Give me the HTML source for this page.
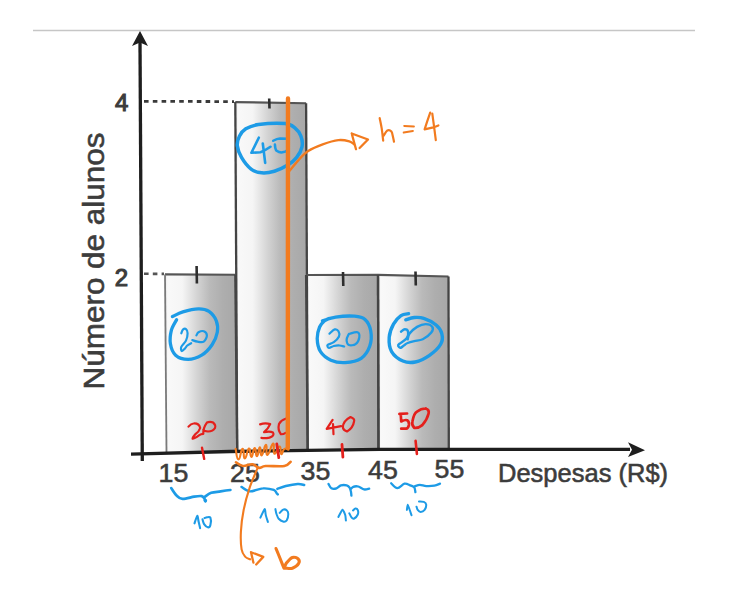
<!DOCTYPE html>
<html><head><meta charset="utf-8">
<style>
html,body{margin:0;padding:0;background:#fff;width:744px;height:613px;overflow:hidden}
svg{display:block}
text{font-family:"Liberation Sans",sans-serif}
</style></head>
<body>
<svg width="744" height="613" viewBox="0 0 744 613">
<defs>
<linearGradient id="bar" x1="0" x2="1" y1="0" y2="0">
<stop offset="0" stop-color="#e8e8e8"/>
<stop offset="0.04" stop-color="#f9f9f9"/>
<stop offset="0.24" stop-color="#f5f5f5"/>
<stop offset="0.45" stop-color="#d3d3d3"/>
<stop offset="0.62" stop-color="#bababa"/>
<stop offset="0.8" stop-color="#aeaeae"/>
<stop offset="1" stop-color="#a7a7a7"/>
</linearGradient>
</defs>
<rect width="744" height="613" fill="#fff"/><line x1="33" y1="30.5" x2="695" y2="30.5" stroke="#c6c6c6" stroke-width="1.4"/>
<g>
<polygon points="165.0,274.4 235.3,274.7 237.2,451.2 166.5,453.0" fill="url(#bar)"/>
<polygon points="235.3,102.1 306.1,103.2 307.7,450.1 237.2,451.2" fill="url(#bar)"/>
<polygon points="306.1,275.0 378.0,274.9 378.5,449.2 307.7,450.1" fill="url(#bar)"/>
<polygon points="378.0,274.9 448.5,276.5 448.8,449.1 378.5,449.2" fill="url(#bar)"/>
<line x1="165.0" y1="274.4" x2="235.3" y2="274.7" stroke="#555" stroke-width="2.1"/>
<line x1="165.0" y1="274.4" x2="166.5" y2="453.0" stroke="#7a7a7a" stroke-width="1.8"/>
<line x1="235.3" y1="274.7" x2="237.2" y2="451.2" stroke="#444" stroke-width="2.3"/>
<line x1="235.3" y1="102.1" x2="306.1" y2="103.2" stroke="#555" stroke-width="2.1"/>
<line x1="235.3" y1="102.1" x2="237.2" y2="451.2" stroke="#444" stroke-width="2.3"/>
<line x1="306.1" y1="103.2" x2="307.7" y2="450.1" stroke="#444" stroke-width="2.3"/>
<line x1="306.1" y1="275.0" x2="378.0" y2="274.9" stroke="#555" stroke-width="2.1"/>
<line x1="306.1" y1="275.0" x2="307.7" y2="450.1" stroke="#444" stroke-width="2.3"/>
<line x1="378.0" y1="274.9" x2="378.5" y2="449.2" stroke="#444" stroke-width="2.3"/>
<line x1="378.0" y1="274.9" x2="448.5" y2="276.5" stroke="#555" stroke-width="2.1"/>
<line x1="378.0" y1="274.9" x2="378.5" y2="449.2" stroke="#444" stroke-width="2.3"/>
<line x1="448.5" y1="276.5" x2="448.8" y2="449.1" stroke="#444" stroke-width="2.3"/>
<line x1="196.6" y1="266" x2="196.9" y2="283.5" stroke="#2e2e2e" stroke-width="2.6"/>
<line x1="269.2" y1="98.5" x2="269.5" y2="108.5" stroke="#2e2e2e" stroke-width="2.6"/>
<line x1="343" y1="272" x2="343.3" y2="286" stroke="#2e2e2e" stroke-width="2.6"/>
<line x1="415.5" y1="271.5" x2="415.8" y2="285.5" stroke="#2e2e2e" stroke-width="2.6"/>
<line x1="144" y1="101.3" x2="234" y2="101.6" stroke="#3a3a3a" stroke-width="2.8" stroke-dasharray="4.6 4.2"/>
<line x1="144" y1="273.8" x2="164" y2="273.9" stroke="#555" stroke-width="2.6" stroke-dasharray="4.6 4.2"/>
<polyline points="140,42 142.3,461" fill="none" stroke="#1e1e1e" stroke-width="3.3"/>
<polyline points="131,454.1 230,451.5 380,449.4 630,449.4" fill="none" stroke="#1e1e1e" stroke-width="3.3"/>
<path d="M140 31 L132 46 L140 42.5 L148 46 Z" fill="#1e1e1e"/>
<path d="M645 450.2 L628 442.3 L632 449.7 L628 457 Z" fill="#1e1e1e"/>
<g fill="#3c3c3c" stroke="#3c3c3c" stroke-width="0.55">
<text x="115" y="111" font-size="24" stroke-width="1.1">4</text>
<text x="114.8" y="285.5" font-size="24" stroke-width="1.1">2</text>
<text transform="translate(103.8,389.5) rotate(-90) scale(1.085,1)" font-size="29">Número de alunos</text>
<text transform="translate(158.5,482.2) scale(1.05,1)" font-size="25.5">15</text>
<text transform="translate(230,481.8) scale(1.05,1)" font-size="25.5">25</text>
<text transform="translate(300.5,480) scale(1.05,1)" font-size="25.5">35</text>
<text transform="translate(368,478.8) scale(1.05,1)" font-size="25.5">45</text>
<text transform="translate(434.5,478.4) scale(1.05,1)" font-size="25.5">55</text>
<text transform="translate(498,481.5) scale(1.02,1)" font-size="25">Despesas (R$)</text>
</g>
</g>
<g>
<g stroke="#1d9be6" fill="none" stroke-linecap="round" stroke-linejoin="round"><path d="M258.5 124.5 C265.0 123.6 279.0 123.0 285.0 123.5 C291.0 124.0 292.0 125.6 294.6 127.7 C297.2 129.8 299.7 133.0 300.9 136.2 C302.1 139.4 302.7 143.3 302.0 146.8 C301.3 150.3 299.0 154.4 296.7 157.4 C294.4 160.4 291.9 162.5 288.2 164.8 C284.5 167.1 278.8 169.9 274.4 171.2 C270.0 172.5 265.6 173.2 261.7 172.8 C257.8 172.5 254.5 171.7 251.1 169.1 C247.7 166.5 243.8 161.3 241.5 157.4 C239.2 153.5 237.7 149.3 237.3 145.8 C237.0 142.3 238.0 139.0 239.4 136.2 C240.8 133.4 242.6 130.8 245.8 128.8 C249.0 126.9 252.0 125.4 258.5 124.5" stroke-width="3.5"/>
<path d="M258.8 137.7 L251.4 152.8 L260.5 152.2 Q266 150 270.5 146.8 M262.8 143.5 L265.2 162.9" stroke-width="2.6"/>
<path d="M273.2 140.8 Q277 138.5 280 138.4 L288 138.7 M274.9 144.4 Q275 149 276.6 150.8 Q279 152.5 281.3 152.5 Q286 152 288 150" stroke-width="2.5"/>
<path d="M172.4 316.6 C174.2 315.8 178.6 313.2 182.9 311.9 C187.2 310.6 194.2 308.9 198.5 308.8 C202.8 308.7 206.0 309.4 209.0 311.4 C212.0 313.4 214.9 317.3 216.3 320.8 C217.7 324.3 218.0 328.3 217.3 332.3 C216.6 336.3 214.7 341.0 212.1 344.8 C209.5 348.6 205.7 352.8 201.7 355.2 C197.7 357.6 192.4 359.4 188.1 359.4 C183.8 359.4 178.5 357.8 175.6 355.2 C172.7 352.6 171.1 348.0 170.4 343.8 C169.7 339.6 170.4 334.2 171.4 330.2 C172.4 326.2 175.7 321.4 176.6 319.7" stroke-width="3.3"/>
<path d="M181.3 333.3 C181.6 332.7 182.1 330.4 182.9 329.7 C183.7 329.0 185.2 328.5 186.0 329.1 C186.8 329.7 187.6 331.4 187.6 333.3 C187.6 335.2 187.1 338.3 186.0 340.6 C184.9 342.9 182.0 345.1 181.3 346.9 C180.6 348.6 181.2 350.8 181.8 351.1 C182.4 351.4 184.1 349.4 185.0 348.5 C185.9 347.6 186.0 346.7 187.0 345.8 C188.0 344.9 190.5 343.6 191.2 343.2" stroke-width="2.2"/>
<path d="M192.3 340.1 C193.2 340.4 195.6 341.4 197.5 341.7 C199.4 342.0 202.2 342.8 203.8 341.7 C205.4 340.6 206.9 337.1 206.9 335.4 C206.9 333.6 205.2 331.7 203.8 331.2 C202.4 330.7 199.7 331.6 198.5 332.3 C197.3 333.0 196.8 334.9 196.4 335.4" stroke-width="2.2"/>
<path d="M322.4 320.9 C324.6 320.3 330.3 317.9 335.7 317.1 C341.1 316.3 349.7 315.8 354.6 316.2 C359.5 316.6 362.3 317.1 365.0 319.5 C367.7 321.9 369.9 326.4 370.7 330.8 C371.5 335.2 371.4 341.4 369.8 346.0 C368.2 350.6 365.3 355.5 361.2 358.3 C357.1 361.1 350.2 362.3 345.1 362.6 C340.1 362.9 335.0 362.0 330.9 360.2 C326.8 358.4 322.8 355.3 320.5 351.7 C318.2 348.1 317.3 342.5 317.2 338.4 C317.1 334.3 318.4 329.9 319.6 327.0 C320.8 324.1 322.7 322.3 324.3 320.9 C325.9 319.5 328.2 318.9 329.0 318.5" stroke-width="3.3"/>
<path d="M329.5 333.7 C330.4 333.0 333.2 329.8 334.7 329.4 C336.2 329.0 337.8 330.1 338.5 331.3 C339.2 332.5 339.8 334.7 339.0 336.5 C338.2 338.3 335.7 340.8 333.8 342.2 C331.9 343.6 328.4 344.1 327.6 345.0 C326.8 345.9 328.0 347.7 329.0 347.9 C330.0 348.1 332.1 346.4 333.8 346.0 C335.6 345.6 337.8 345.4 339.5 345.5 C341.2 345.6 343.4 346.3 344.2 346.5" stroke-width="2.2"/>
<path d="M349.9 333.7 C351.4 333.3 355.9 331.7 357.5 332.3 C359.1 332.9 359.6 335.5 359.3 337.5 C359.0 339.5 357.3 342.9 355.6 344.1 C353.9 345.4 350.4 345.6 348.9 345.0 C347.4 344.4 346.7 342.0 346.6 340.3 C346.5 338.6 347.9 335.7 348.5 334.6 C349.1 333.5 348.4 334.1 349.9 333.7" stroke-width="2.2"/>
<path d="M408.6 313.7 C407.3 314.0 403.5 313.9 401.0 315.6 C398.5 317.3 395.5 320.5 393.5 324.1 C391.5 327.7 389.5 332.8 389.2 337.4 C388.9 342.0 389.3 347.7 391.6 351.6 C393.9 355.5 398.9 359.3 402.9 361.0 C406.8 362.7 410.9 362.9 415.3 362.0 C419.7 361.1 425.2 358.3 429.5 355.3 C433.8 352.3 438.8 347.6 440.8 344.0 C442.9 340.4 442.6 336.8 441.8 333.6 C441.0 330.4 439.1 327.5 436.1 325.0 C433.1 322.5 427.4 319.6 423.8 318.4 C420.2 317.1 417.3 317.3 414.3 317.5 C411.3 317.7 407.2 319.4 405.8 319.8" stroke-width="3.4"/>
<path d="M401.0 331.7 C401.6 331.3 403.6 329.3 404.8 329.3 C406.0 329.3 407.8 330.2 408.1 331.7 C408.4 333.2 408.2 336.2 406.7 338.3 C405.2 340.4 400.6 342.7 399.2 344.0 C397.8 345.3 398.0 345.3 398.2 345.9 C398.4 346.5 399.7 347.9 400.6 347.8 C401.6 347.7 402.7 346.2 403.9 345.4 C405.1 344.6 406.0 343.7 407.7 343.0 C409.4 342.3 411.8 341.7 414.3 341.1 C416.8 340.5 420.0 340.7 422.8 339.3 C425.6 337.9 429.7 334.7 431.3 332.6 C432.9 330.5 433.2 328.3 432.3 326.9 C431.4 325.5 428.2 324.1 425.7 324.1 C423.2 324.1 419.8 325.3 417.1 326.9 C414.4 328.5 411.2 331.5 409.6 333.6 C408.0 335.7 408.0 338.4 407.7 339.3" stroke-width="2.4"/>
<path d="M171.2 488.1 C172.0 489.3 174.4 493.4 176.3 495.2 C178.2 497.0 179.5 498.7 182.5 498.9 C185.5 499.1 191.0 497.1 194.2 496.6 C197.4 496.1 200.0 495.7 201.7 496.1 C203.4 496.5 204.0 498.0 204.6 498.9 C205.2 499.8 205.3 500.9 205.5 501.3 M204.6 497.0 C205.7 496.3 208.5 493.7 211.2 492.8 C213.9 491.9 217.4 491.9 220.6 491.4 C223.8 490.9 228.8 490.2 230.4 490.0" stroke-width="2.7"/>
<circle cx="205.3" cy="500.5" r="1.8" fill="#1d9be6" stroke="none"/>
<path d="M194.5 523.3 C194.8 522.5 196.9 515.8 197.3 515.7 C197.7 515.6 198.4 520.9 198.7 522.1 C199.0 523.4 200.0 527.6 200.1 528.2 M202.5 519.3 C202.8 520.1 203.2 522.8 204.1 524.1 C205.0 525.5 207.1 527.3 208.2 527.4 C209.2 527.5 210.0 526.5 210.4 524.9 C210.8 523.3 211.0 519.0 210.4 517.7 C209.8 516.4 208.0 517.2 207.0 517.3 C206.0 517.4 204.9 518.0 204.5 518.1" stroke-width="2.1"/>
<path d="M241.5 486.9 C242.9 487.6 246.3 491.1 249.9 491.4 C253.5 491.6 258.9 488.6 262.9 488.4 C266.9 488.1 271.5 489.1 273.8 489.9 C276.1 490.7 276.1 492.6 276.8 493.4 C277.5 494.1 277.6 494.2 277.8 494.4 M277.3 488.9 C278.7 488.4 282.4 486.8 285.8 486.0 C289.2 485.2 294.6 484.2 297.7 484.0 C300.8 483.8 303.1 484.8 304.2 485.0" stroke-width="2.4"/>
<path d="M260.4 517.7 C260.8 516.8 264.2 509.4 264.7 509.1 C265.2 508.8 265.5 513.8 265.8 515.1 C266.1 516.4 267.7 521.3 267.9 522.0 M275.4 509.1 C275.6 509.9 275.9 512.4 276.5 514.0 C277.1 515.6 277.6 517.5 278.7 518.8 C279.8 520.0 281.7 521.2 283.0 521.5 C284.3 521.8 285.8 521.6 286.7 520.4 C287.6 519.1 288.3 515.7 288.3 514.0 C288.3 512.3 287.6 510.9 286.7 510.2 C285.8 509.5 284.2 509.2 283.0 509.7 C281.8 510.1 280.2 512.4 279.7 512.9" stroke-width="2.0"/>
<path d="M328.5 484.0 C329.0 484.7 330.1 487.6 331.4 488.3 C332.7 489.0 334.9 488.8 336.5 488.3 C338.1 487.8 339.2 485.9 340.9 485.4 C342.6 484.9 345.2 485.0 346.7 485.4 C348.1 485.8 348.9 486.5 349.6 487.6 C350.3 488.7 350.7 490.7 351.0 492.0 C351.3 493.3 351.3 495.0 351.4 495.6 M350.3 489.8 C350.8 489.3 351.9 487.4 353.2 486.9 C354.5 486.3 356.5 486.1 358.3 486.5 C360.1 486.9 362.3 489.0 364.1 489.4 C365.9 489.8 368.4 488.8 369.2 488.7" stroke-width="2.3"/>
<path d="M338.4 516.9 C338.8 516.2 341.8 509.9 342.5 509.7 C343.2 509.5 345.0 514.2 345.3 515.3 C345.6 516.4 345.8 520.1 345.9 520.6 M349.3 513.3 C349.7 514.0 350.9 516.8 351.7 517.7 C352.5 518.6 353.2 519.0 354.2 518.5 C355.2 518.0 357.2 515.9 357.8 514.5 C358.4 513.1 358.2 511.1 357.8 510.1 C357.4 509.1 356.2 508.4 355.4 508.5 C354.6 508.6 353.4 510.2 353.0 510.5" stroke-width="2.0"/>
<path d="M391.2 483.3 C392.2 484.1 395.1 488.0 397.3 488.1 C399.5 488.2 402.4 484.2 404.5 483.7 C406.6 483.2 408.6 484.7 410.2 485.3 C411.8 485.9 413.3 486.2 414.2 487.3 C415.1 488.4 415.2 491.3 415.4 492.1 M415.0 486.1 C415.8 485.9 418.0 484.9 419.9 484.9 C421.8 484.9 423.9 486.0 426.3 486.1 C428.7 486.2 432.1 486.1 434.4 485.7 C436.7 485.3 439.1 484.0 440.0 483.7" stroke-width="2.3"/>
<path d="M406.9 509.9 C407.0 509.4 407.4 504.7 407.7 504.7 C408.0 504.7 409.3 508.8 409.7 509.9 C410.1 510.9 411.3 514.7 411.5 515.2 M416.5 506.7 C416.7 507.2 417.0 509.0 417.7 509.9 C418.4 510.8 419.5 511.9 420.6 511.9 C421.8 511.9 423.7 511.1 424.6 509.9 C425.5 508.7 426.3 506.0 426.2 504.7 C426.1 503.4 425.0 502.4 423.8 501.9 C422.6 501.4 419.8 501.6 419.0 501.5" stroke-width="2.0"/></g>
<g stroke="#e4201c" fill="none" stroke-linecap="round" stroke-linejoin="round"><path d="M188.5 426.6 Q191 423.5 193.5 423.5 Q199 423 200.2 428 Q199 432 195.3 434.2 Q192 438 192.6 438.7 Q194 439 199.3 435.1 Q201 434 203.3 433.8 Q203 428 206.9 422.6 Q210 421 213.2 422.6 Q216 425 215 428 Q213 431.5 208 431.5 Q204 431 203.3 429.7" stroke-width="2.2"/>
<path d="M202 447.7 Q203 453 204.2 458.9" stroke-width="2.4"/>
<path d="M260.1 424.4 Q265 422.5 270.2 424.1 Q268 429 264.1 432.2 Q270 431 273 432.5 Q275 435.5 269.5 437.6 Q265 438.5 261.4 437.9 M285.6 418.7 Q281 420 279 424 Q277.5 430 280.9 434.2 Q283 434.5 285.6 432.8" stroke-width="2.2"/>
<path d="M332.6 419.8 L326.7 428.8 L341.1 426.1 M333 424 L333.5 434.2 M350.5 417.1 Q355 419 354.1 421.2 Q353 428 347 431.5 Q343 430 342.9 427.4 Q343 421 350.5 417.1" stroke-width="2.2"/>
<path d="M342 444.5 L342.9 457.1" stroke-width="2.8"/>
<path d="M399.4 413.9 L407.1 413.5 M400.8 414.8 L401.2 421.5 Q405 419.5 407.1 420.2 Q409.5 422 408.9 425.1 Q408 428.5 406.2 428.7 L401.2 428.7 M425.9 408.5 Q429.5 410 428.6 413.5 Q427 420 422.3 425.1 Q418 428.5 414.2 427.8 Q411.5 425 412.4 421.5 Q414 413 416.9 411.7 Q421 408.5 425.9 408.5" stroke-width="2.7"/>
<path d="M415.6 440.8 L416.9 453.9" stroke-width="2.6"/></g>
<g stroke="#f27b1f" fill="none" stroke-linecap="round" stroke-linejoin="round"><line x1="288" y1="98.5" x2="287.8" y2="448" stroke-width="4.4"/>
<path d="M289.4 171.0 C290.9 169.2 295.4 163.4 298.5 160.1 C301.6 156.8 304.2 153.6 308.2 151.0 C312.2 148.4 317.7 146.1 322.7 144.3 C327.7 142.5 334.0 140.6 338.4 140.1 C342.8 139.6 346.7 140.6 349.3 141.3 C351.9 142.0 353.3 143.8 354.1 144.3" stroke-width="2.3"/>
<path d="M351.7 133.5 L356 149.2 M351.7 133.5 L368 139.5 L359.6 148" stroke-width="2.3"/>
<path d="M379.7 118.2 C380.0 119.9 381.1 124.7 381.7 128.4 C382.3 132.2 382.9 138.6 383.2 140.7 M383.7 135.6 C384.3 134.8 386.0 131.2 387.3 130.5 C388.6 129.8 390.5 130.5 391.4 131.5 C392.3 132.5 392.5 134.9 392.9 136.6 C393.3 138.3 393.8 140.8 394.0 141.7" stroke-width="2.2"/>
<path d="M404.2 125.9 L413.9 126.4 M403.7 132.5 L412.9 131" stroke-width="2.0"/>
<path d="M430.2 112.6 L427.2 121.3 L424.6 129.4 L433.3 127.4 L438.4 125.4 M432.3 113.6 L434.3 128.4 L435.8 140.2" stroke-width="2.2"/>
<path d="M235.6 448.9 C236.5 452.0 236.4 459.4 238.5 459.4 C240.6 459.4 240.6 449.2 242.5 448.9 C244.4 448.6 243.0 458.6 244.9 458.5 C246.8 458.4 247.0 449.0 248.9 448.5 C250.8 448.0 249.7 457.0 251.4 456.9 C253.1 456.8 252.9 448.3 254.6 448.1 C256.3 447.9 255.4 456.3 257.0 456.1 C258.6 455.9 258.4 447.5 259.8 447.3 C261.2 447.1 260.0 456.1 261.8 455.3 C263.6 454.6 264.2 444.9 265.9 444.8 C267.6 444.7 265.3 455.3 267.5 454.9 C269.7 454.5 271.1 444.0 273.1 443.6 C275.1 443.2 272.4 452.8 274.3 453.7 C276.2 454.6 277.5 446.4 279.6 446.5 C281.7 446.6 279.8 453.4 281.2 454.1 C282.6 454.8 282.2 450.2 284.4 448.9 C286.6 447.6 287.3 449.5 288.5 449.7" stroke-width="2.1"/>
<path d="M236.0 462.3 C237.2 462.9 240.2 465.7 243.0 466.0 C245.8 466.3 249.8 463.9 252.5 464.2 C255.2 464.5 256.8 467.6 259.0 467.9 C261.2 468.2 261.4 466.3 265.6 466.0 C269.8 465.7 280.2 466.7 284.4 466.0 C288.6 465.3 289.6 462.5 290.6 461.8" stroke-width="2.6"/>
<path d="M258.0 467.2 C256.6 470.5 252.3 479.7 249.9 486.9 C247.5 494.1 245.1 502.7 243.6 510.2 C242.1 517.7 241.2 525.2 240.9 531.7 C240.6 538.2 240.8 545.2 241.6 549.4 C242.3 553.6 244.0 555.2 245.4 556.9 C246.8 558.5 249.3 558.9 250.1 559.3" stroke-width="2.1"/>
<path d="M251 552.2 L253.4 562.6 M251 552.2 L263.3 556.9 L256.2 564.5" stroke-width="2.3"/>
<path d="M276.0 548.5 C276.7 550.2 278.9 555.5 280.2 558.8 C281.5 562.1 283.4 566.6 284.0 568.2 M284.5 567.0 C284.9 566.3 285.5 564.2 286.8 562.6 C288.1 561.0 290.5 558.0 292.4 557.4 C294.3 556.8 297.1 557.8 298.1 558.8 C299.1 559.8 299.6 561.9 298.6 563.5 C297.7 565.1 294.5 567.4 292.4 568.2 C290.3 569.0 287.0 568.2 285.9 568.2" stroke-width="3.1"/></g>
<g stroke="#e4201c" fill="none" stroke-linecap="round" stroke-linejoin="round"><path d="M276.8 444 L278.8 457.7" stroke-width="2.8"/></g>
</g>
</svg>
</body></html>
